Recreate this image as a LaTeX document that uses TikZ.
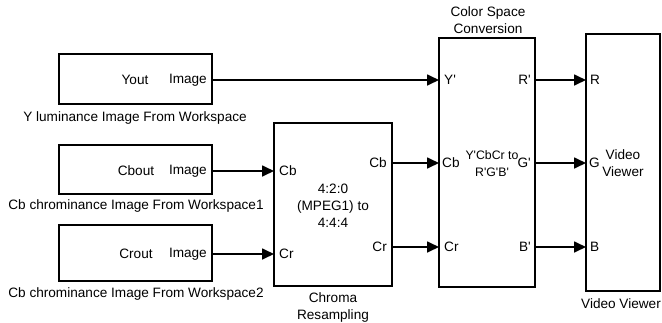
\documentclass[tikz,border=0pt]{standalone}
\usepackage{fontspec}
\setmainfont{Liberation Sans}
\usetikzlibrary{arrows.meta,calc}
\newcommand{\apo}{\textquotesingle}
\begin{document}
\begin{tikzpicture}[x=1pt,y=-1pt,
  blk/.style={draw, line width=1.7pt, inner sep=0pt, outer sep=0pt},
  txt/.style={font=\fontsize{13.6}{17}\selectfont, inner sep=0pt, align=center},
  sig/.style={line width=1.7pt, -{Triangle[length=12pt,width=11pt]}}]
\useasboundingbox (0,0) rectangle (662,322);
% blocks
\node[blk, minimum width=153pt, minimum height=50pt] (ys) at (135.5,79) {};
\node[blk, minimum width=153pt, minimum height=49pt] (cbs) at (135.5,169.5) {};
\node[blk, minimum width=153pt, minimum height=56pt] (crs) at (135.5,253) {};
\node[blk, minimum width=118pt, minimum height=163pt] (chr) at (333,204.5) {};
\node[blk, minimum width=96pt, minimum height=249pt] (csc) at (487,162.5) {};
\node[blk, minimum width=74pt, minimum height=257pt] (vv) at (623,162.5) {};
% ports
\path (ys.east) ++(0,1) coordinate (ysout);
\path (cbs.east) ++(0,1.5) coordinate (cbsout);
\path (crs.east) ++(0,1) coordinate (crsout);
\path (chr.west) ++(0,-33.5) coordinate (chrinb);
\path (chr.west) ++(0,49.5) coordinate (chrinr);
\path (chr.east) ++(0,-41.5) coordinate (chroutb);
\path (chr.east) ++(0,42.5) coordinate (chroutr);
\path (csc.west) ++(0,-82.5) coordinate (cscinY);
\path (csc.west) ++(0,0.5) coordinate (cscinb);
\path (csc.west) ++(0,84.5) coordinate (cscinr);
\path (csc.east) ++(0,-82.5) coordinate (cscoutR);
\path (csc.east) ++(0,0.5) coordinate (cscoutG);
\path (csc.east) ++(0,84.5) coordinate (cscoutB);
\path (vv.west) ++(0,-82.5) coordinate (vvR);
\path (vv.west) ++(0,0.5) coordinate (vvG);
\path (vv.west) ++(0,84.5) coordinate (vvB);
% connectors
\draw[sig] (ysout) -- (cscinY);
\draw[sig] (cbsout) -- (chrinb);
\draw[sig] (crsout) -- (chrinr);
\draw[sig] (chroutb) -- (cscinb);
\draw[sig] (chroutr) -- (cscinr);
\draw[sig] (cscoutR) -- (vvR);
\draw[sig] (cscoutG) -- (vvG);
\draw[sig] (cscoutB) -- (vvB);
% source block texts
\node[txt] (t1) at (135,80) {Yout};
\node[txt, anchor=east] (t2) at ($(ysout)+(-5,0)$) {Image};
\node[txt] (t3) at (136,171) {Cbout};
\node[txt, anchor=east] (t4) at ($(cbsout)+(-5,0)$) {Image};
\node[txt] (t5) at (136,254) {Crout};
\node[txt, anchor=east] (t6) at ($(crsout)+(-5,0)$) {Image};
\node[txt] (l1) at (135,118) {Y luminance Image From Workspace};
\node[txt] (l2) at (136,206) {Cb chrominance Image From Workspace1};
\node[txt] (l3) at (136,294) {Cb chrominance Image From Workspace2};
% chroma
\node[txt, anchor=west] (p1) at ($(chrinb)+(5,0)$) {Cb};
\node[txt, anchor=west] (p2) at ($(chrinr)+(5,0)$) {Cr};
\node[txt, anchor=east] (p3) at ($(chroutb)+(-5,0)$) {Cb};
\node[txt, anchor=east] (p4) at ($(chroutr)+(-5,0)$) {Cr};
\node[txt] (c1) at (333,206) {4:2:0\\(MPEG1) to\\4:4:4};
\node[txt] (c2) at (333,307) {Chroma\\Resampling};
% color space conversion
\node[txt, anchor=west] (p5) at ($(cscinY)+(5,0)$) {Y\apo};
\node[txt, anchor=west] (p6) at ($(cscinb)+(3,0)$) {Cb};
\node[txt, anchor=west] (p7) at ($(cscinr)+(5,0)$) {Cr};
\node[txt, anchor=east] (p8) at ($(cscoutR)+(-4,0)$) {R\apo};
\node[txt, anchor=east] (p9) at ($(cscoutG)+(-4,0)$) {G\apo};
\node[txt, anchor=east] (p10) at ($(cscoutB)+(-4,0)$) {B\apo};
\node[txt, font=\fontsize{12.3}{17}\selectfont] (c3) at (492,163.5) {Y\apo CbCr to\\R\apo G\apo B\apo};
\node[txt] (c4) at (488,20) {Color Space\\Conversion};
% video viewer
\node[txt, anchor=west] (p11) at ($(vvR)+(4,0)$) {R};
\node[txt, anchor=west] (p12) at ($(vvG)+(3,0)$) {G};
\node[txt, anchor=west] (p13) at ($(vvB)+(4,0)$) {B};
\node[txt] (c5) at (623,163.5) {Video\\Viewer};
\node[txt] (c6) at (621,304) {Video Viewer};
\end{tikzpicture}
\end{document}
